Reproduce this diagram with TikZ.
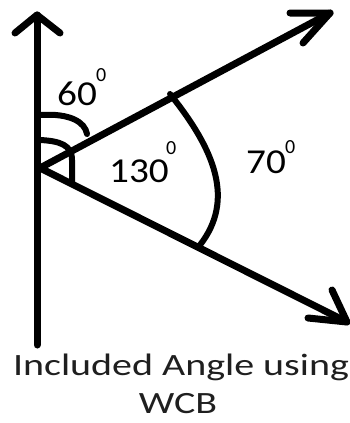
\documentclass[tikz,border=0pt]{standalone}
\usepackage{fontspec}
\setmainfont{Carlito}
\begin{document}
\begin{tikzpicture}[x=1pt,y=-1pt, line cap=round, line join=round,
  ray/.style={line width=7pt},
  arcline/.style={line width=6pt},
  lbl/.style={anchor=base west, inner sep=0pt, font=\fontsize{35}{35}\selectfont},
  sup/.style={anchor=base west, inner sep=0pt, font=\fontsize{20}{20}\selectfont},
  caption/.style={anchor=base, inner sep=0pt, text=black!88, font=\fontsize{31}{31}\selectfont}]
\useasboundingbox (0,0) rectangle (349,423);
% key points
\coordinate (O) at (40,168);
\coordinate (N) at (37,15);
\coordinate (S) at (37,345);
\coordinate (A) at (330,13);
\coordinate (B) at (347,322);
\coordinate (Nl) at (15,33);
\coordinate (Nr) at (60,33);
\coordinate (Al) at (290,13);
\coordinate (Ar) at (303,43);
\coordinate (Bl) at (332,290);
\coordinate (Br) at (308,318);
\coordinate (P1) at (170,94);
\coordinate (P2) at (200,245);
\coordinate (Q1) at (40,115);
\coordinate (Q2) at (87,134);
\coordinate (R1) at (40,140);
\coordinate (R2) at (72,184);
% axis and rays
\draw[ray] (S) -- (N);
\draw[ray] (Nl) -- (N) -- (Nr);
\draw[ray] (O) -- (A);
\draw[ray] (Al) -- (A) -- (Ar);
\draw[ray] (O) -- (B);
\draw[ray] (Bl) -- (B) -- (Br);
% arcs
\draw[arcline] (P1) .. controls (215,150) and (235,200) .. (P2);
\draw[arcline] (Q1) .. controls (70,113) and (85,122) .. (Q2);
\draw[arcline] (R1) .. controls (60,141) and (72,145) .. (72,160) -- (R2);
% labels
\node[lbl] (l60) at (57,105) {\scalebox{1.12}[1]{60}};
\node[sup] (s60) at (96,81) {0};
\node[lbl] (l130) at (109,182) {\scalebox{1.12}[1]{130}};
\node[sup] (s130) at (166,154) {0};
\node[lbl] (l70) at (246,173) {\scalebox{1.12}[1]{70}};
\node[sup] (s70) at (285,153) {0};
\node[caption] (c1) at (181,375) {\scalebox{1.29}[1]{Included Angle using}};
\node[caption] (c2) at (178,413) {\scalebox{1.29}[1]{WCB}};
\end{tikzpicture}
\end{document}
